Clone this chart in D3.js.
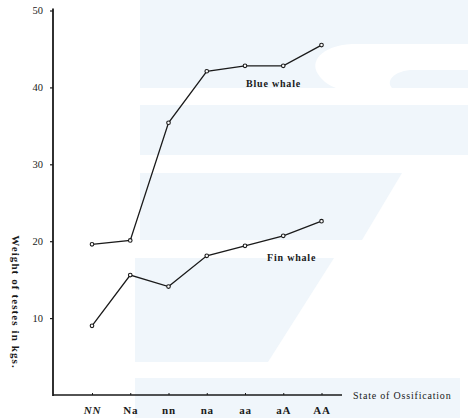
<!DOCTYPE html>
<html>
<head>
<meta charset="utf-8">
<script src="https://cdn.jsdelivr.net/npm/d3@7/dist/d3.min.js"></script>
<style>
  html, body { margin: 0; padding: 0; background: #fff; }
  svg { display: block; }
  text { font-family: "Liberation Serif", "DejaVu Serif", serif; fill: #1a1a1a; }
</style>
</head>
<body>
<svg id="chart" width="468" height="418"></svg>
<script>
// Ossification stages of the vertebrae
const stages = ["NN", "Na", "nn", "na", "aa", "aA", "AA"];

// Mean weight of testes (kg) at each stage
const blueWhale = [19.6, 20.1, 35.4, 42.1, 42.8, 42.8, 45.5];
const finWhale  = [9.0, 15.6, 14.1, 18.1, 19.4, 20.7, 22.6];

const yTicks = [10, 20, 30, 40, 50];

const svg = d3.select("#chart");

// pale background emblem
const bg = svg.append("g").attr("fill", "#f0f6fb");
bg.append("path").attr("d",
  "M140,0 L468,0 L468,44 L352,44 C320,46 310,62 318,74 C322,81 330,86 336,88 L140,88 Z");
bg.append("path").attr("d",
  "M392,88 C386,82 392,72 410,70 L468,70 L468,88 Z");
bg.append("rect").attr("x", 140).attr("y", 105).attr("width", 328).attr("height", 50);
bg.append("path").attr("d", "M140,173 L402,173 L362,240 L140,240 Z");
bg.append("path").attr("d", "M135,258 L334,258 L268,362 L135,362 Z");
bg.append("path").attr("d", "M135,378 L460,378 L460,418 L135,418 Z");

const x = d3.scalePoint().domain(stages).range([92, 321.5]);
const y = d3.scaleLinear().domain([0, 50]).range([395, 10.5]);

const axisX0 = 53, axisY0 = 395;

// Y axis
const yAxis = svg.append("g")
  .attr("transform", `translate(${axisX0},0)`)
  .call(d3.axisLeft(y).tickValues(yTicks).tickSize(3).tickPadding(7).tickFormat(d3.format("d")));
yAxis.select(".domain").remove();
yAxis.selectAll(".tick line").attr("stroke", "#1a1a1a").attr("stroke-width", 1.2);
yAxis.selectAll(".tick text")
  .attr("font-size", 10.5).attr("fill", "#1a1a1a")
  .attr("font-family", "Liberation Serif, serif");

svg.append("line")
  .attr("x1", axisX0).attr("x2", axisX0)
  .attr("y1", y(50) - 2).attr("y2", axisY0 + 1)
  .attr("stroke", "#1a1a1a").attr("stroke-width", 1.8);

// X axis
const xAxis = svg.append("g")
  .attr("transform", `translate(0,${axisY0})`)
  .call(d3.axisBottom(x).tickSize(-2).tickPadding(11));
xAxis.select(".domain").remove();
xAxis.selectAll(".tick line").attr("stroke", "#1a1a1a").attr("stroke-width", 1);
xAxis.selectAll(".tick text")
  .attr("font-size", 11).attr("font-weight", "bold").attr("fill", "#1a1a1a")
  .attr("font-family", "Liberation Serif, serif")
  .attr("font-style", d => d === "NN" ? "italic" : "normal")
  .attr("letter-spacing", 0.8);

svg.append("line")
  .attr("x1", axisX0).attr("x2", 342)
  .attr("y1", axisY0).attr("y2", axisY0)
  .attr("stroke", "#1a1a1a").attr("stroke-width", 1.6);

// Axis titles
svg.append("text")
  .attr("x", 353).attr("y", 399)
  .attr("font-size", 10).attr("letter-spacing", 0.8)
  .text("State of Ossification");

svg.append("text")
  .attr("transform", "translate(12,302) rotate(90)")
  .attr("text-anchor", "middle")
  .attr("font-size", 11).attr("font-weight", "bold").attr("letter-spacing", 1.1)
  .text("Weight of testes in kgs.");

// Series
const line = d3.line().x((d, i) => x(stages[i])).y(d => y(d));

function drawSeries(values) {
  svg.append("path")
    .datum(values)
    .attr("d", line)
    .attr("fill", "none")
    .attr("stroke", "#1a1a1a")
    .attr("stroke-width", 1.3);
  svg.append("g").selectAll("circle")
    .data(values)
    .join("circle")
    .attr("cx", (d, i) => x(stages[i]))
    .attr("cy", d => y(d))
    .attr("r", 1.8)
    .attr("fill", "#fff")
    .attr("stroke", "#1a1a1a")
    .attr("stroke-width", 1.1);
}
drawSeries(blueWhale);
drawSeries(finWhale);

// Series labels
svg.append("text")
  .attr("x", x("aa") + 1).attr("y", y(40.1))
  .attr("font-size", 10).attr("font-weight", "bold").attr("letter-spacing", 0.8)
  .text("Blue whale");

svg.append("text")
  .attr("x", x("aa") + 22).attr("y", y(17.4))
  .attr("font-size", 10).attr("font-weight", "bold").attr("letter-spacing", 0.8)
  .text("Fin whale");
</script>
</body>
</html>
